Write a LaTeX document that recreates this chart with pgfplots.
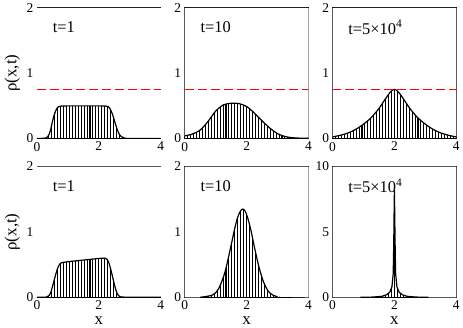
\documentclass[border=0pt]{standalone}
\usepackage{fontspec}
\setmainfont{Liberation Serif}
\usepackage{pgfplots}
\usepackage{pgfplotstable}
\pgfplotsset{compat=1.18}
\usepgfplotslibrary{groupplots}
\usetikzlibrary{calc}

% density profiles
\pgfplotstableread{
x y
0 0
0.2 0.004
0.3 0.01
0.35 0.03
0.4 0.07
0.45 0.15
0.5 0.26
0.55 0.35
0.6 0.42
0.65 0.465
0.7 0.488
0.8 0.498
1.0 0.5
1.5 0.5
2.0 0.5
2.2 0.498
2.3 0.49
2.35 0.465
2.4 0.42
2.45 0.36
2.5 0.28
2.55 0.2
2.6 0.13
2.65 0.075
2.7 0.04
2.8 0.01
2.9 0.002
3.0 0
4.0 0
}\tA
\pgfplotstableread{
x y
0 0.04
0.25 0.07
0.5 0.13
0.75 0.26
1.0 0.42
1.25 0.515
1.5 0.54
1.75 0.535
2.0 0.49
2.25 0.39
2.5 0.27
2.75 0.16
3.0 0.075
3.25 0.03
3.5 0.012
3.75 0.006
4.0 0.004
}\tB
\pgfplotstableread{
x y
0 0.025
0.25 0.05
0.5 0.085
0.75 0.14
1.0 0.22
1.25 0.32
1.5 0.46
1.7 0.6
1.85 0.7
1.95 0.745
2.0 0.75
2.05 0.745
2.15 0.7
2.3 0.6
2.5 0.46
2.75 0.32
3.0 0.22
3.25 0.14
3.5 0.085
3.75 0.05
4.0 0.025
}\tC
\pgfplotstableread{
x y
0 0
0.3 0.002
0.4 0.03
0.45 0.08
0.5 0.16
0.55 0.25
0.6 0.34
0.65 0.42
0.7 0.48
0.75 0.515
0.8 0.53
1.0 0.545
1.5 0.57
2.0 0.595
2.2 0.6
2.27 0.58
2.33 0.52
2.4 0.4
2.45 0.3
2.5 0.2
2.55 0.11
2.6 0.05
2.65 0.02
2.7 0.008
2.9 0
4.0 0
}\tD
\pgfplotstableread{
x y
0.5 0.001
0.9 0.036
1.1 0.137
1.3 0.386
1.5 0.80
1.6 1.02
1.7 1.21
1.8 1.32
1.87 1.35
1.95 1.32
2.05 1.19
2.15 1.0
2.25 0.77
2.4 0.46
2.55 0.23
2.7 0.094
2.85 0.033
3.0 0.01
}\tE
\pgfplotstableread{
x y
0.9 0
1.3 0.02
1.6 0.08
1.75 0.2
1.85 0.4
1.92 0.8
1.96 1.8
1.97 3.0
1.98 4.5
1.99 6.5
2.0 8.2
2.01 6.5
2.02 4.5
2.03 3.0
2.04 1.8
2.08 0.8
2.15 0.4
2.25 0.2
2.4 0.08
2.7 0.02
3.1 0
}\tF

\pgfplotsset{
  % grid (the hatching) below the plots, frame and ticks above them
  layers/gridbelow/.define layer set={axis background,axis grid,main,axis ticks,axis lines,axis tick labels,axis descriptions,axis foreground}{},
  panel/.style={
    set layers=gridbelow,
    scale only axis, width=124bp, height=131bp,
    xmin=0, xmax=4, ymin=0, ymax=2,
    xtick={0,2,4}, ytick={0,1,2},
    minor x tick num=20, minor tick length=0pt,
    xmajorgrids, xminorgrids,
    major grid style={black, line width=0.8bp},
    minor grid style={black, line width=1.05bp},
    tick align=inside, major tick length=5bp,
    axis line style={line width=0.8bp},
    every tick/.style={black, line width=0.8bp},
    ticklabel style={font=\fontsize{13.5}{13.5}\selectfont},
    /pgf/number format/assume math mode=true,
    label style={font=\fontsize{17}{17}\selectfont},
  },
  mask/.style={fill=white, draw=none},
  profile/.style={draw=black, line width=1.2bp},
  reddash/.style={red, line width=1.5bp, dash pattern=on 9bp off 4bp},
}
% white out everything above a profile, so the grid shows only beneath it
\newcommand{\maskabove}[2][]{\addplot[mask,#1] table {#2} -- (rel axis cs:1,0) -- (rel axis cs:1,1) -- (rel axis cs:0,1) -- (rel axis cs:0,0) -- cycle;}
\newcommand{\tlab}[1]{\node[anchor=west, font=\fontsize{16.5}{16.5}\selectfont] at (rel axis cs:0.1,0.85) {#1};}

\begin{document}
\begin{tikzpicture}
\begin{groupplot}[group style={group size=3 by 2, horizontal sep=24bp, vertical sep=28bp}, panel]
\nextgroupplot[ylabel={ρ(x,t)}]
  \maskabove{\tA}
  \addplot[profile] table {\tA};
  \addplot[reddash] coordinates {(0,0.75) (4,0.75)};
  \tlab{t=1}
\nextgroupplot
  \maskabove[smooth]{\tB}
  \addplot[profile, smooth] table {\tB};
  \addplot[reddash] coordinates {(0,0.75) (4,0.75)};
  \tlab{t=10}
\nextgroupplot
  \maskabove[smooth]{\tC}
  \addplot[profile, smooth] table {\tC};
  \addplot[reddash] coordinates {(0,0.75) (4,0.75)};
  \tlab{t=5×10\textsuperscript{4}}
\nextgroupplot[ylabel={ρ(x,t)}, xlabel={x}]
  \maskabove{\tD}
  \addplot[profile] table {\tD};
  \tlab{t=1}
\nextgroupplot[xlabel={x}]
  \maskabove[smooth]{\tE}
  \addplot[profile, smooth] table {\tE};
  \tlab{t=10}
\nextgroupplot[xlabel={x}, ymax=10, ytick={0,5,10}]
  \maskabove{\tF}
  \addplot[profile] table {\tF};
  \tlab{t=5×10\textsuperscript{4}}
\end{groupplot}
\path ($(group c1r2.south west)+(-37bp,-30bp)$) rectangle ($(group c3r1.north east)+(5bp,7bp)$);
\end{tikzpicture}
\end{document}
